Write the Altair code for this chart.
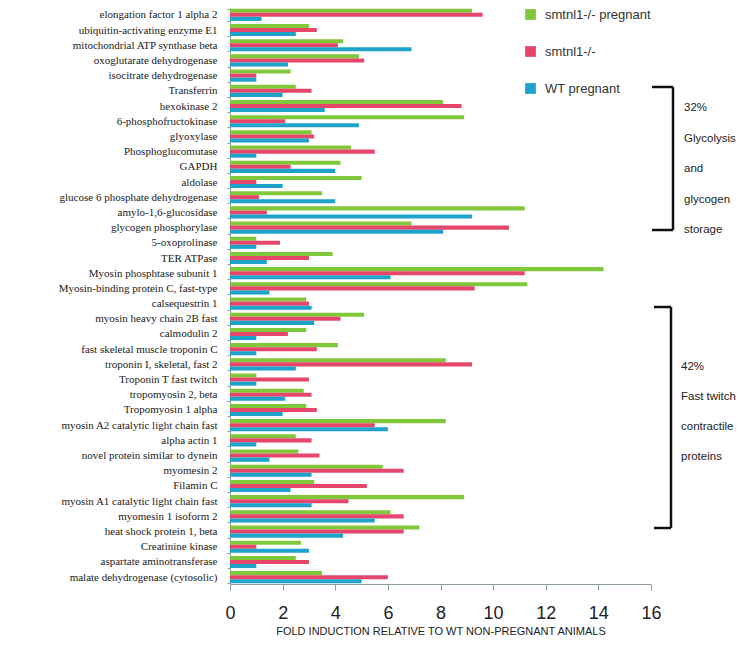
import altair as alt
import pandas as pd

proteins = [
    "elongation factor 1 alpha 2", "ubiquitin-activating enzyme E1",
    "mitochondrial ATP synthase beta", "oxoglutarate dehydrogenase",
    "isocitrate dehydrogenase", "Transferrin", "hexokinase 2",
    "6-phosphofructokinase", "glyoxylase", "Phosphoglucomutase", "GAPDH",
    "aldolase", "glucose 6 phosphate dehydrogenase", "amylo-1,6-glucosidase",
    "glycogen phosphorylase", "5-oxoprolinase", "TER ATPase",
    "Myosin phosphtase subunit 1", "Myosin-binding protein C, fast-type",
    "calsequestrin 1", "myosin heavy chain 2B fast", "calmodulin 2",
    "fast skeletal muscle troponin C", "troponin I, skeletal, fast 2",
    "Troponin T fast twitch", "tropomyosin 2, beta", "Tropomyosin 1 alpha",
    "myosin A2 catalytic light chain fast", "alpha actin 1",
    "novel protein similar to dynein", "myomesin 2", "Filamin C",
    "myosin A1 catalytic light chain fast", "myomesin 1 isoform 2",
    "heat shock protein 1, beta", "Creatinine kinase",
    "aspartate aminotransferase", "malate dehydrogenase (cytosolic)",
]

series = ["smtnl1-/- pregnant", "smtnl1-/-", "WT pregnant"]
colors = ["#80C83A", "#E5466A", "#1CA2CB"]

smtnl1_pregnant = [9.2, 3.0, 4.3, 4.9, 2.3, 2.5, 8.1, 8.9, 3.1, 4.6, 4.2,
                   5.0, 3.5, 11.2, 6.9, 1.0, 3.9, 14.2, 11.3, 2.9, 5.1, 2.9,
                   4.1, 8.2, 1.0, 2.8, 2.9, 8.2, 2.5, 2.6, 5.8, 3.2, 8.9,
                   6.1, 7.2, 2.7, 2.5, 3.5]
smtnl1 = [9.6, 3.3, 4.1, 5.1, 1.0, 3.1, 8.8, 2.1, 3.2, 5.5, 2.3,
          1.0, 1.1, 1.4, 10.6, 1.9, 3.0, 11.2, 9.3, 3.0, 4.2, 2.2,
          3.3, 9.2, 3.0, 3.1, 3.3, 5.5, 3.1, 3.4, 6.6, 5.2, 4.5,
          6.6, 6.6, 1.0, 3.0, 6.0]
wt_pregnant = [1.2, 2.5, 6.9, 2.2, 1.0, 2.0, 3.6, 4.9, 3.0, 1.0, 4.0,
               2.0, 4.0, 9.2, 8.1, 1.0, 1.4, 6.1, 1.5, 3.1, 3.2, 1.0,
               1.0, 2.5, 1.0, 2.1, 2.0, 6.0, 1.0, 1.5, 3.1, 2.3, 3.1,
               5.5, 4.3, 3.0, 1.0, 5.0]

x_ticks = [0, 2, 4, 6, 8, 10, 12, 14, 16]

rows = []
for name, vals in zip(series, [smtnl1_pregnant, smtnl1, wt_pregnant]):
    for p, v in zip(proteins, vals):
        rows.append({"protein": p, "series": name, "value": v})
df = pd.DataFrame(rows)

W, H = 421, 576
SANS = "Liberation Sans"

bars = alt.Chart(df).mark_bar().encode(
    y=alt.Y("protein:N", sort=proteins, title=None,
            scale=alt.Scale(paddingInner=0.2, paddingOuter=0.05),
            axis=alt.Axis(labelFont="Liberation Serif", labelFontSize=11,
                          labelColor="#1a1a1a", tickBand="extent",
                          tickSize=3, labelPadding=10, domainColor="#8c9ca3",
                          tickColor="#8c9ca3", labelLimit=260)),
    yOffset=alt.YOffset("series:N", sort=series,
                        scale=alt.Scale(paddingInner=0, paddingOuter=0)),
    x=alt.X("value:Q", scale=alt.Scale(domain=[0, 16], nice=False),
            title="FOLD INDUCTION RELATIVE TO WT NON-PREGNANT ANIMALS",
            axis=alt.Axis(values=x_ticks, grid=False, labelFont=SANS,
                          labelFontSize=18, labelColor="#222", labelPadding=14,
                          labelFlush=False,
                          tickSize=6, tickColor="#8c9ca3", domainColor="#8c9ca3",
                          titleFont=SANS, titleFontSize=11,
                          titleFontWeight="normal", titleColor="#222",
                          titlePadding=3)),
    color=alt.Color("series:N", sort=series,
                    scale=alt.Scale(domain=series, range=colors),
                    legend=alt.Legend(title=None, orient="none", legendX=294,
                                      legendY=0, symbolType="square",
                                      symbolSize=115, symbolStrokeWidth=0,
                                      labelFont=SANS, labelFontSize=13,
                                      labelColor="#333", rowPadding=23,
                                      labelOffset=8, padding=0)),
)

one = alt.Data(values=[{}])


def rule(x1, x2, y1, y2):
    return alt.Chart(one).mark_rule(color="#111", strokeWidth=2.5).encode(
        x=alt.value(x1), x2=alt.value(x2), y=alt.value(y1), y2=alt.value(y2))


brackets = [
    rule(422, 443, 79, 79), rule(443, 443, 79, 222), rule(422, 443, 222, 222),
    rule(424, 441, 299, 299), rule(441, 441, 299, 520), rule(424, 441, 520, 520),
]

text1 = alt.Chart(one).mark_text(
    align="left", baseline="top", font=SANS, fontSize=11.5, color="#222",
    lineHeight=30.5).encode(
    x=alt.value(454), y=alt.value(94),
    text=alt.value(["32%", "Glycolysis", "and", "glycogen", "storage"]))

text2 = alt.Chart(one).mark_text(
    align="left", baseline="top", font=SANS, fontSize=11.5, color="#222",
    lineHeight=30).encode(
    x=alt.value(451), y=alt.value(353),
    text=alt.value(["42%", "Fast twitch", "contractile", "proteins"]))

chart = alt.layer(bars, *brackets, text1, text2).properties(
    width=W, height=H,
    autosize=alt.AutoSizeParams(type="none"),
    padding={"left": 222, "top": 0, "right": 86, "bottom": 54},
).configure_view(stroke=None)

chart.save("out.html", embed_options={"renderer": "svg", "actions": False})
